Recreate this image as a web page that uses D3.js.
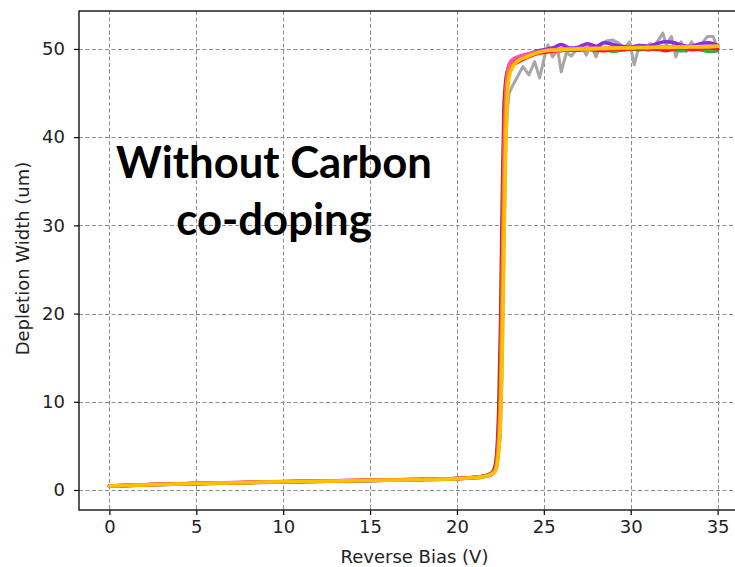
<!DOCTYPE html>
<html>
<head>
<meta charset="utf-8">
<script src="https://cdn.jsdelivr.net/npm/d3@7"></script>
<style>
  html, body { margin: 0; padding: 0; background: #fff; }
  svg { display: block; }
</style>
</head>
<body>
<svg id="chart" width="735" height="567"></svg>
<script>
// Reverse bias sweep (V), shared by the smooth curves
const bias = [0, 2.5, 5, 7.5, 10, 12.5, 15, 17.5, 20, 21, 21.5, 22,
  22.2, 22.3, 22.4, 22.5, 22.6, 22.7, 22.8, 22.9, 23, 23.2, 23.5, 24, 24.5,
  25, 25.5, 26, 26.5, 27, 27.5, 28, 28.5, 29, 29.5, 30, 30.5, 31, 31.5, 32,
  32.5, 33, 33.5, 34, 34.5, 35];

// Depletion width (um) per sample
const purple = [0.42, 0.58, 0.70, 0.80, 0.90, 0.98, 1.06, 1.15, 1.27, 1.38, 1.48, 1.75,
  2.3, 3.2, 5.5, 10, 20, 33, 42, 46, 47.6, 48.4, 48.9, 49.3, 49.7,
  49.9, 50.1, 50.5, 50.1, 50.2, 50.6, 50.3, 50.7, 50.5, 50.3, 50.2, 50.4, 50.3, 50.6, 50.8,
  50.7, 50.4, 50.3, 50.6, 50.7, 50.4];
const green = [0.44, 0.60, 0.72, 0.82, 0.92, 1.00, 1.08, 1.17, 1.30, 1.42, 1.52, 1.85,
  2.5, 3.8, 7, 14, 27, 40, 45.5, 47.2, 47.9, 48.5, 49.0, 49.3, 49.6,
  49.7, 49.8, 49.9, 49.85, 49.9, 49.95, 49.8, 49.9, 49.7, 49.9, 50.0, 49.9, 50.0, 49.9, 50.0,
  49.9, 49.8, 50.0, 49.9, 49.7, 49.8];
const brown = [0.45, 0.61, 0.73, 0.83, 0.93, 1.01, 1.09, 1.18, 1.31, 1.44, 1.56, 1.95,
  2.8, 4.5, 9, 18, 32, 43, 46.3, 47.5, 48.0, 48.5, 48.9, 49.3, 49.6,
  49.75, 49.85, 49.9, 49.95, 49.9, 50.0, 50.05, 49.95, 50.0, 50.1, 50.05, 50.0, 50.1, 50.1, 50.0,
  50.15, 50.1, 50.05, 50.2, 50.1, 50.15];
const red = [0.46, 0.62, 0.74, 0.84, 0.94, 1.02, 1.10, 1.18, 1.30, 1.42, 1.53, 1.88,
  2.4, 3.5, 6.5, 12.5, 26, 39, 45, 47, 47.6, 48.1, 48.5, 49.0, 49.4,
  49.6, 49.75, 49.8, 49.9, 49.85, 50.0, 49.9, 49.8, 50.0, 49.9, 50.0, 50.1, 49.9, 50.0, 49.8,
  50.0, 50.1, 49.9, 50.0, 50.1, 50.0];
const pink = [0.47, 0.63, 0.75, 0.85, 0.95, 1.03, 1.11, 1.19, 1.31, 1.42, 1.52, 1.85,
  2.3, 3.3, 6, 11, 23, 37, 44.5, 47.3, 48.2, 48.8, 49.1, 49.4, 49.6,
  49.8, 49.9, 50.0, 50.0, 50.05, 50.1, 50.1, 50.0, 50.15, 50.1, 50.2, 50.15, 50.2, 50.2, 50.25,
  50.2, 50.3, 50.2, 50.3, 50.3, 50.3];
const orange = [0.45, 0.61, 0.73, 0.83, 0.93, 1.01, 1.09, 1.17, 1.29, 1.41, 1.51, 1.82,
  2.2, 3.0, 5, 9, 19, 32, 41.5, 46, 47.4, 48.2, 48.7, 49.1, 49.5,
  49.75, 49.85, 49.9, 49.95, 50.0, 50.05, 50.0, 50.1, 50.05, 50.1, 50.1, 50.15, 50.1, 50.2, 50.15,
  50.2, 50.2, 50.25, 50.2, 50.25, 50.3];
const yellow = [0.45, 0.60, 0.72, 0.82, 0.92, 1.00, 1.08, 1.16, 1.28, 1.40, 1.50, 1.80,
  2.1, 2.7, 4.2, 7.5, 15, 27, 38, 44.5, 46.8, 47.9, 48.6, 49.1, 49.5,
  49.75, 49.85, 49.9, 49.95, 50.0, 50.0, 50.05, 50.05, 50.1, 50.1, 50.1, 50.15, 50.15, 50.2, 50.2,
  50.2, 50.2, 50.25, 50.25, 50.25, 50.3];

// Noisy run, sampled on its own bias points
const grayBias = [0, 5, 10, 15, 20, 21, 22, 22.3, 22.5, 22.6, 22.7, 22.8, 22.9, 23.0,
  23.3, 23.8, 24.14, 24.47, 24.76, 25.04, 25.24, 25.5, 25.8, 26.0, 26.3, 26.58, 26.87,
  27.16, 27.44, 27.7, 28.0, 28.3, 28.6, 28.98, 29.36, 29.65, 29.94, 30.2, 30.5, 30.8,
  31.1, 31.4, 31.66, 31.85, 32.05, 32.34, 32.6, 32.9, 33.2, 33.5, 33.8, 34.06, 34.25,
  34.4, 34.75, 35];
const grayWidth = [0.45, 0.72, 0.92, 1.08, 1.28, 1.4, 1.8, 2.6, 6, 13, 26, 38, 43, 45,
  46.2, 48.0, 47.05, 48.56, 46.7, 49.13, 50.45, 49.1, 49.9, 47.4, 49.6, 49.2, 49.9,
  50.45, 49.3, 50.45, 49.1, 50.6, 50.9, 51.0, 50.6, 50.1, 50.8, 48.2, 50.45, 49.9,
  50.6, 50.45, 51.2, 51.8, 50.45, 51.4, 49.1, 50.8, 49.7, 50.8, 50.1, 50.45, 51.0,
  51.4, 51.4, 50.0];

const xTicks = [0, 5, 10, 15, 20, 25, 30, 35];
const yTicks = [0, 10, 20, 30, 40, 50];
const xLabel = "Reverse Bias (V)";
const yLabel = "Depletion Width (um)";
const noteLines = ["Without Carbon", "co-doping"];

const smoothSeries = [
  { values: purple, color: "#8a2be2" },
  { values: green,  color: "#2fb52f" },
  { values: brown,  color: "#8b4513" },
  { values: red,    color: "#ff1a1a" },
  { values: pink,   color: "#ff4fbf" },
  { values: orange, color: "#ff8c00" },
  { values: yellow, color: "#ffc000" }
];

const svg = d3.select("#chart");
const plot = { left: 79, right: 748, top: 11, bottom: 510 };

const x = d3.scaleLinear().domain([-1.75, 36.75]).range([plot.left, plot.right]);
const y = d3.scaleLinear().domain([-2.27, 54.3]).range([plot.bottom, plot.top]);

// dashed grid
const grid = svg.append("g").attr("stroke", "#8c8c8c").attr("stroke-width", 1)
  .attr("stroke-dasharray", "4,2.5");
grid.selectAll("line.vx").data(xTicks).join("line")
  .attr("x1", d => Math.round(x(d)) + 0.5).attr("x2", d => Math.round(x(d)) + 0.5)
  .attr("y1", plot.top).attr("y2", plot.bottom);
grid.selectAll("line.hy").data(yTicks).join("line")
  .attr("y1", d => Math.round(y(d)) + 0.5).attr("y2", d => Math.round(y(d)) + 0.5)
  .attr("x1", plot.left).attr("x2", plot.right);

svg.append("clipPath").attr("id", "clip").append("rect")
  .attr("x", plot.left).attr("y", plot.top)
  .attr("width", plot.right - plot.left).attr("height", plot.bottom - plot.top);

const lines = svg.append("g").attr("clip-path", "url(#clip)")
  .attr("fill", "none").attr("stroke-linejoin", "round").attr("stroke-linecap", "round");

const grayLine = d3.line().x(d => x(d[0])).y(d => y(d[1]));
lines.append("path")
  .attr("d", grayLine(d3.zip(grayBias, grayWidth)))
  .attr("stroke", "#a6a6a6").attr("stroke-width", 3);

const smoothLine = d3.line().curve(d3.curveMonotoneX)
  .x((d, i) => x(bias[i])).y(d => y(d));
smoothSeries.forEach(s => {
  lines.append("path").attr("d", smoothLine(s.values))
    .attr("stroke", s.color).attr("stroke-width", 3.5);
});

// axes
const font = "'DejaVu Sans', sans-serif";
const xAxis = svg.append("g").attr("transform", `translate(0,${plot.bottom})`)
  .call(d3.axisBottom(x).tickValues(xTicks).tickSize(5).tickPadding(5).tickFormat(d3.format("d")));
const yAxis = svg.append("g").attr("transform", `translate(${plot.left},0)`)
  .call(d3.axisLeft(y).tickValues(yTicks).tickSize(5).tickPadding(9).tickFormat(d3.format("d")));
[xAxis, yAxis].forEach(a => {
  a.select(".domain").remove();
  a.selectAll(".tick line").attr("stroke", "#000").attr("stroke-width", 1.2);
  a.selectAll(".tick text").attr("fill", "#222").style("font-family", font).style("font-size", "18px");
});

// spines
const spines = svg.append("g").attr("stroke", "#000").attr("stroke-width", 1.3).attr("fill", "none");
spines.append("rect").attr("x", plot.left).attr("y", plot.top)
  .attr("width", plot.right - plot.left).attr("height", plot.bottom - plot.top);

svg.append("text").attr("x", (plot.left + plot.right) / 2 + 1).attr("y", 563)
  .attr("text-anchor", "middle").attr("fill", "#222")
  .style("font-family", font).style("font-size", "18px").text(xLabel);
svg.append("text").attr("transform", `translate(29,${(plot.top + plot.bottom) / 2 - 2}) rotate(-90)`)
  .attr("text-anchor", "middle").attr("fill", "#222")
  .style("font-family", font).style("font-size", "18px").text(yLabel);

// annotation, sized so the first line spans its intended width
const note = svg.append("g").style("font-family", "Lato, 'Open Sans', sans-serif")
  .style("font-weight", "bold").attr("fill", "#000").attr("text-anchor", "middle");
const first = note.append("text").attr("x", 274).attr("y", 178).style("font-size", "40px").text(noteLines[0]);
const w = first.node().getComputedTextLength();
const fs = 40 * 316 / w;
first.style("font-size", fs + "px");
note.append("text").attr("x", 274).attr("y", 235).style("font-size", fs + "px").text(noteLines[1]);
</script>
</body>
</html>
